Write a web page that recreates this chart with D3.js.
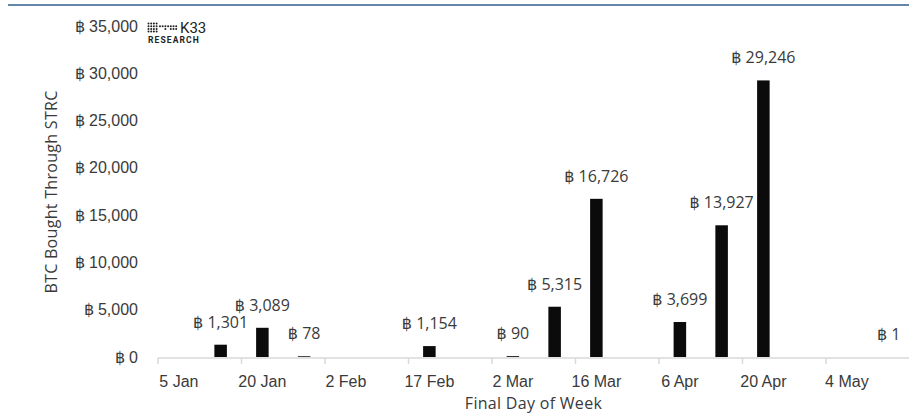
<!DOCTYPE html>
<html>
<head>
<meta charset="utf-8">
<script src="https://cdn.jsdelivr.net/npm/d3@7"></script>
<style>
  html, body { margin: 0; padding: 0; background: #fff; }
  svg { display: block; font-family: "Open Sans", "DejaVu Sans", sans-serif; }
  .tick text { fill: #3a3a3a; }
</style>
</head>
<body>
<svg width="909" height="415"></svg>
<script>
// Final day of each reporting week (only every other one is labelled)
const weeks = ['5 Jan', '12 Jan', '20 Jan', '26 Jan', '2 Feb', '9 Feb', '17 Feb', '23 Feb', '2 Mar',
  '9 Mar', '16 Mar', '30 Mar', '6 Apr', '13 Apr', '20 Apr', '27 Apr', '4 May', '11 May']
// BTC bought through STRC, null = no purchase that week
const btcBought = [null, 1301, 3089, 78, null, null, 1154, null, 90,
  5315, 16726, null, 3699, 13927, 29246, null, null, 1]
const yTicks = [0, 5000, 10000, 15000, 20000, 25000, 30000, 35000]

const rows = weeks.map((w, i) => ({ week: w, value: btcBought[i] }))

const svg = d3.select('svg')
const plotLeft = 158
const step = 41.75
const plotBottom = 358
const plotTop = 26
const fontSize = '16px'

const x = d3.scaleBand()
  .domain(weeks)
  .range([plotLeft, plotLeft + step * weeks.length])

const y = d3.scaleLinear()
  .domain([0, 35000])
  .range([plotBottom - 1, plotTop])

const btc = v => '\u0E3F ' + d3.format(',')(v)

// header rule (title itself is cropped off)
svg.append('line')
  .attr('x1', 8).attr('x2', 909)
  .attr('y1', 5).attr('y2', 5)
  .attr('stroke', '#2f5f8e')
  .attr('stroke-width', 1.5)

// y axis labels only
const yAxis = svg.append('g')
  .attr('transform', `translate(${plotLeft},0)`)
  .call(d3.axisLeft(y).tickValues(yTicks).tickSize(0).tickPadding(20).tickFormat(btc))
yAxis.select('.domain').remove()
yAxis.selectAll('text').style('font-size', fontSize)

// x axis: line, ticks every other week, labels at week centres
const labelled = weeks.filter((w, i) => i % 2 === 0)
const xAxis = svg.append('g')
  .attr('transform', `translate(0,${plotBottom})`)
  .call(d3.axisBottom(x).tickValues(labelled).tickSize(0).tickPadding(18))
xAxis.select('.domain').remove()
xAxis.selectAll('text').style('font-size', fontSize)

svg.append('line')
  .attr('x1', plotLeft).attr('x2', 909)
  .attr('y1', plotBottom).attr('y2', plotBottom)
  .attr('stroke', '#d9d9d9')
  .attr('stroke-width', 1.5)

svg.append('g')
  .selectAll('line')
  .data(labelled)
  .join('line')
  .attr('x1', d => x(d)).attr('x2', d => x(d))
  .attr('y1', plotBottom).attr('y2', plotBottom + 6)
  .attr('stroke', '#d9d9d9')
  .attr('stroke-width', 1.5)

// bars
const barW = x.bandwidth() * 0.3
const withValue = rows.filter(d => d.value !== null)

svg.append('g')
  .selectAll('rect')
  .data(withValue)
  .join('rect')
  .attr('x', d => x(d.week) + (x.bandwidth() - barW) / 2)
  .attr('y', d => y(d.value))
  .attr('width', barW)
  .attr('height', d => y(0) - y(d.value))
  .attr('fill', '#0b0b0c')

// value labels
svg.append('g')
  .selectAll('text')
  .data(withValue)
  .join('text')
  .attr('x', d => x(d.week) + x.bandwidth() / 2)
  .attr('y', d => y(d.value) - 17)
  .attr('text-anchor', 'middle')
  .attr('fill', '#3a3a3a')
  .style('font-size', fontSize)
  .text(d => btc(d.value))

// axis titles
svg.append('text')
  .attr('transform', `translate(57,${(plotTop + plotBottom) / 2}) rotate(-90)`)
  .attr('text-anchor', 'middle')
  .attr('fill', '#3a3a3a')
  .style('font-size', fontSize)
  .style('letter-spacing', '0.3px')
  .text('BTC Bought Through STRC')

svg.append('text')
  .attr('x', (plotLeft + 909) / 2)
  .attr('y', 409)
  .attr('text-anchor', 'middle')
  .attr('fill', '#3a3a3a')
  .style('font-size', fontSize)
  .style('letter-spacing', '0.3px')
  .text('Final Day of Week')

// K33 Research logo
const logo = svg.append('g').attr('fill', '#222')
const dots = []
for (let r = 0; r < 4; r++) {
  for (let c = 0; c < 4; c++) dots.push([148.5 + c * 2.7, 23.5 + r * 2.7])
}
;[[160, 1], [162.7, 1], [165.4, 1], [165.4, 2], [168.1, 1], [170.8, 1], [170.8, 2], [173.5, 1], [173.5, 2], [176.2, 1], [176.2, 2]]
  .forEach(([cx, r]) => dots.push([cx, 23.5 + r * 2.7]))
logo.selectAll('circle')
  .data(dots)
  .join('circle')
  .attr('cx', d => d[0]).attr('cy', d => d[1])
  .attr('r', 1)
logo.append('text')
  .attr('x', 180).attr('y', 33)
  .style('font-size', '15px')
  .style('font-family', 'Roboto, sans-serif')
  .text('K33')
logo.append('text')
  .attr('x', 148).attr('y', 43)
  .style('font-size', '8.5px')
  .style('font-weight', 'bold')
  .style('letter-spacing', '1.1px')
  .style('font-family', 'Roboto, sans-serif')
  .text('RESEARCH')
</script>
</body>
</html>
